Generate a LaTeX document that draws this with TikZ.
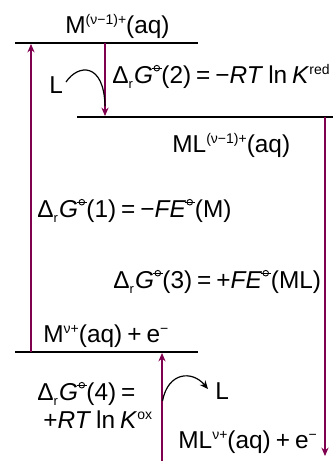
\documentclass[tikz,border=0pt]{standalone}
\usepackage{fontspec}
\setmainfont{Liberation Sans}
\usepackage{pict2e}
\usetikzlibrary{arrows.meta}

\definecolor{arrowred}{HTML}{800050}
\newcommand{\lblfont}{\fontsize{12.2}{14}\selectfont\spaceskip=2.5pt plus 1pt minus 0.5pt\relax}
\newcommand{\plim}{\raisebox{7.4pt}{\setlength{\unitlength}{1pt}\linethickness{0.45pt}%
  \begin{picture}(5.2,0)(-2.6,0)\put(0,0){\circle{2.8}}\put(-2.6,0){\line(1,0){5.2}}\end{picture}}}
\newcommand{\DrG}[1]{Δ\raisebox{-2.6pt}{\fontsize{6.5}{7}\selectfont r}\kern0.6pt\textit{G}\kern-0.8pt\plim\kern-0.3pt(#1)}
\newcommand{\Upsc}[1]{\raisebox{4.2pt}{\fontsize{7}{8}\selectfont #1}}

\begin{document}
\begin{tikzpicture}[x=0.5pt, y=-0.5pt, >={Stealth[length=4.2pt,width=3.6pt]},
    level/.style={line width=1.25pt},
    change/.style={->, arrowred, line width=0.65pt},
    ligand/.style={line width=0.6pt},
    lbl/.style={anchor=base west, inner sep=0pt, font=\lblfont}]
    \useasboundingbox (0,0) rectangle (333,461);

    % Levels
    \coordinate (m1-l) at (15,43);  \coordinate (m1-r) at (198,43);
    \coordinate (ml1-l) at (77,117); \coordinate (ml1-r) at (333,117);
    \coordinate (m0-l) at (15,352); \coordinate (m0-r) at (198,352);
    \draw[level] (m1-l) -- (m1-r);
    \draw[level] (ml1-l) -- (ml1-r);
    \draw[level] (m0-l) -- (m0-r);

    % Level labels
    \node[lbl] (lm1) at (65,33) {M\Upsc{(ν−1)+}(aq)};
    \node[lbl] (lml1) at (172,152) {ML\Upsc{(ν−1)+}(aq)};
    \node[lbl] (lm0) at (43,342) {M\Upsc{ν+}(aq) + e\Upsc{−}};
    \node[lbl] (lml0) at (178,448) {ML\Upsc{ν+}(aq) + e\Upsc{−}};

    % Steps
    \coordinate (s1a) at (31,352);   \coordinate (s1b) at (31,44);
    \coordinate (s2a) at (105,43);   \coordinate (s2b) at (105,116);
    \coordinate (s3a) at (325,117);  \coordinate (s3b) at (325,456);
    \coordinate (s4a) at (162,461);  \coordinate (s4b) at (162,353);
    \draw[change] (s1a) -- (s1b);
    \draw[change] (s2a) -- (s2b);
    \draw[change] (s3a) -- (s3b);
    \draw[change] (s4a) -- (s4b);

    % Ligand in and out
    \node[lbl] (L2) at (49,93) {L};
    \node[lbl] (L4) at (215,399) {L};
    \coordinate (c2) at (105,106);
    \coordinate (c4) at (162.5,401);
    \draw[ligand] (66,82) .. controls (78,64) and (104,62) .. (c2);
    \draw[ligand, ->] (c4) .. controls (168,372) and (192,370) .. (208,389);

    % Gibbs energies
    \node[lbl] (g2) at (112,83) {\DrG{2} = −\textit{RT} ln \textit{K}\Upsc{red}};
    \node[lbl] (g1) at (37,217) {\DrG{1} = −\textit{FE}\kern-0.8pt\plim(M)};
    \node[lbl] (g3) at (113,288) {\DrG{3} = +\textit{FE}\kern-0.8pt\plim(ML)};
    \node[lbl] (g4) at (37,400) {\DrG{4} =};
    \node[lbl] (g4b) at (43,428) {+\textit{RT} ln \textit{K}\Upsc{ox}};
\end{tikzpicture}
\end{document}
